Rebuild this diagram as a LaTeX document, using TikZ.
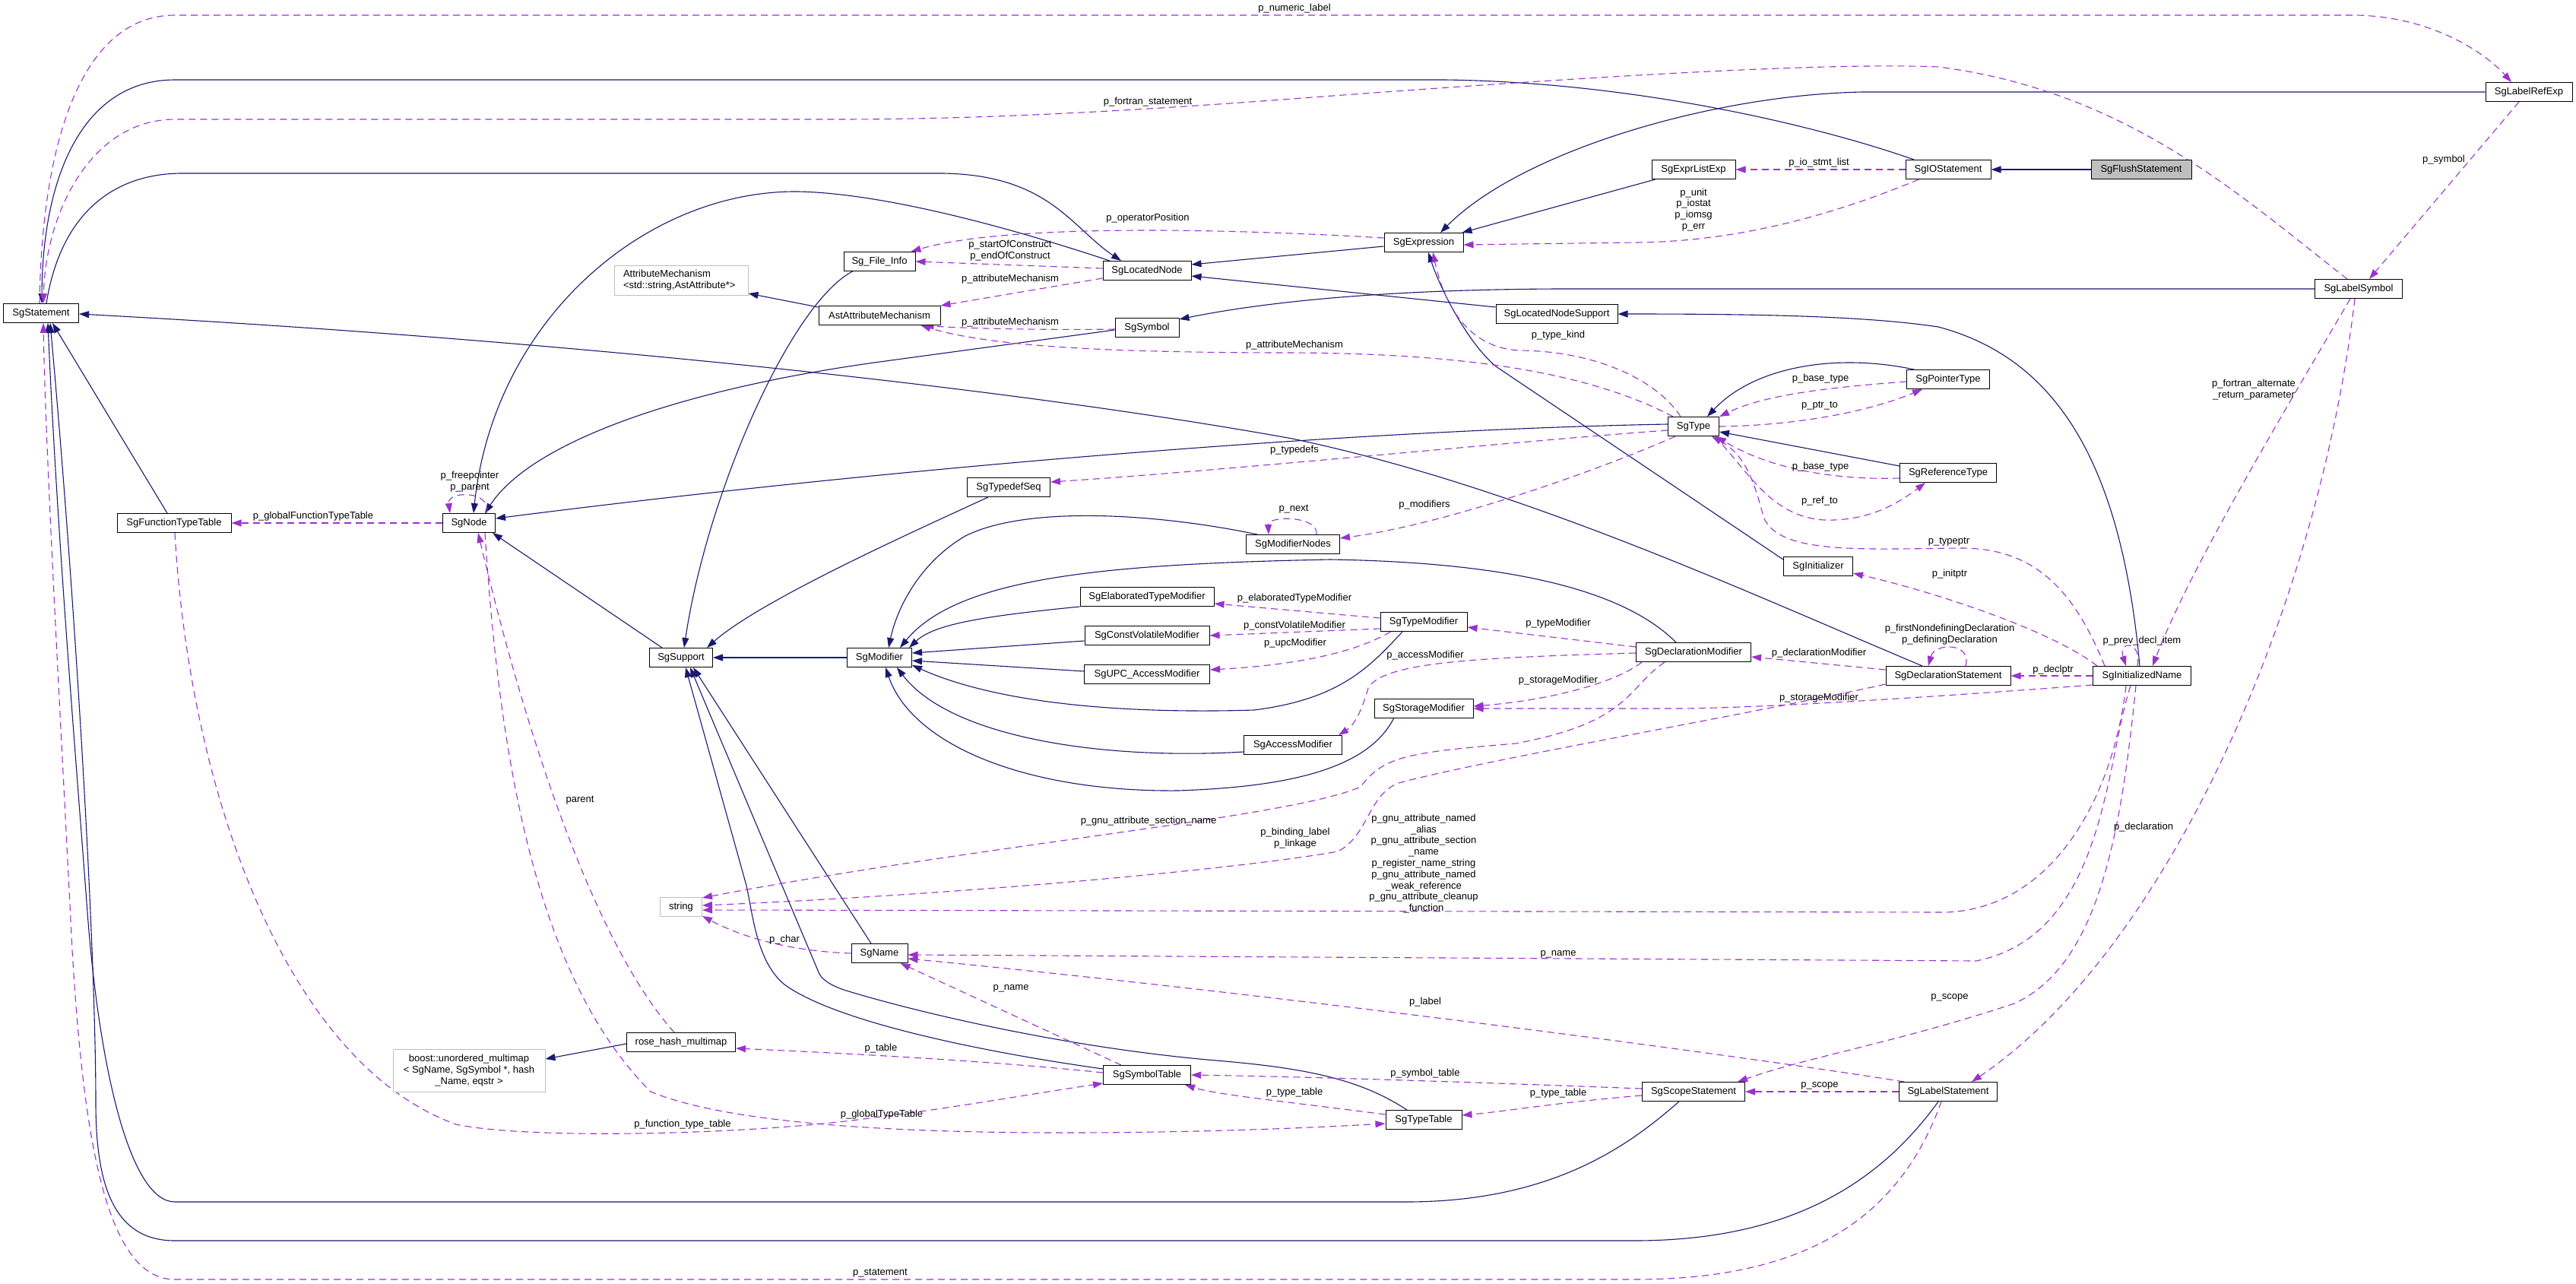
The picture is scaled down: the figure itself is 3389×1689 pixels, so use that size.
\documentclass[tikz,border=0pt]{standalone}
\usepackage{fontspec}
\setmainfont{Liberation Sans}
\usetikzlibrary{arrows.meta,calc}
\definecolor{navy}{HTML}{191970}
\definecolor{purp}{HTML}{9A32CD}
\definecolor{greyb}{HTML}{BFBFBF}
\newcommand{\nf}{\fontsize{13}{14.8}\selectfont}
\pgfdeclarelayer{back}
\pgfdeclarelayer{bg}
\pgfsetlayers{back,bg,main}
\begin{document}
\begin{tikzpicture}[x=1pt,y=-1pt,
 nd/.style={draw=black, line width=1pt, fill=white, minimum height=25pt, inner sep=0pt, font=\nf},
 gnd/.style={nd, draw=greyb},
 inh/.style={draw=navy, line width=1.1pt, -{Triangle[length=13pt,width=9pt]}},
 mem/.style={draw=purp, line width=1.1pt, dash pattern=on 9pt off 6pt, -{Triangle[length=13pt,width=9pt]}},
 lbl/.style={font=\nf, inner sep=0pt, align=center, text=black}]
\begin{pgfonlayer}{back}
\fill[white] (0,0) rectangle (3389,1689);
\end{pgfonlayer}
\useasboundingbox (0,0) rectangle (3389,1689);

% ---------- nodes ----------
\node[nd, minimum width=99pt] (stmt) at (54,412) {SgStatement};
\node[nd, minimum width=150pt] (ftt) at (229,688) {SgFunctionTypeTable};
\node[nd, minimum width=69pt] (sgnode) at (617,688) {SgNode};
\node[gnd, minimum height=39pt, text width=152pt, inner xsep=12pt, align=left] (attrm) at (896,369) {AttributeMechanism\\<std::string,AstAttribute*>};
\node[nd, minimum width=94pt] (fileinfo) at (1157,344) {Sg\_File\_Info};
\node[nd, minimum width=160pt] (astattr) at (1157,415) {AstAttributeMechanism};
\node[nd, minimum width=116pt] (locnode) at (1509,356) {SgLocatedNode};
\node[nd, minimum width=84pt] (symbol) at (1509,431) {SgSymbol};
\node[nd, minimum width=109pt] (typedefseq) at (1327,641) {SgTypedefSeq};
\node[nd, minimum width=123pt] (modnodes) at (1701,716) {SgModifierNodes};
\node[nd, minimum width=176pt] (elab) at (1509,785) {SgElaboratedTypeModifier};
\node[nd, minimum width=164pt] (cv) at (1509,836) {SgConstVolatileModifier};
\node[nd, minimum width=85pt] (modifier) at (1157,865) {SgModifier};
\node[nd, minimum width=165pt] (upc) at (1509,887) {SgUPC\_AccessModifier};
\node[nd, minimum width=129pt] (access) at (1701,980) {SgAccessModifier};
\node[nd, minimum width=130pt] (storage) at (1873,932) {SgStorageModifier};
\node[nd, minimum width=83pt] (support) at (896,865) {SgSupport};
\node[gnd, minimum width=55pt] (str) at (896,1193) {string};
\node[nd, minimum width=74pt] (sgname) at (1157,1254) {SgName};
\node[nd, minimum width=143pt] (rose) at (896,1371) {rose\_hash\_multimap};
\node[gnd, minimum width=200pt, minimum height=56pt, align=center] (boost) at (617,1408) {boost::unordered\_multimap\\< SgName, SgSymbol *, hash\\\_Name, eqstr >};
\node[nd, minimum width=115pt] (symtab) at (1509,1414) {SgSymbolTable};
\node[nd, minimum width=100pt] (typetab) at (1873,1473) {SgTypeTable};
\node[nd, minimum width=135pt] (sgscope) at (2228,1436) {SgScopeStatement};
\node[nd, minimum width=129pt] (labelstmt) at (2563,1436) {SgLabelStatement};
\node[nd, minimum width=164pt] (declstmt) at (2563,889) {SgDeclarationStatement};
\node[nd, minimum width=151pt] (declmod) at (2228,858) {SgDeclarationModifier};
\node[nd, minimum width=129pt] (initname) at (2818,889) {SgInitializedName};
\node[nd, minimum width=114pt] (typemod) at (1873,818) {SgTypeModifier};
\node[nd, minimum width=104pt] (expr) at (1873,319) {SgExpression};
\node[nd, minimum width=160pt] (lns) at (2048,413) {SgLocatedNodeSupport};
\node[nd, minimum width=67pt] (sgtype) at (2228,561) {SgType};
\node[nd, minimum width=110pt] (exprlist) at (2228,223) {SgExprListExp};
\node[nd, minimum width=112pt] (iostmt) at (2563,223) {SgIOStatement};
\node[nd, minimum width=132pt, fill=greyb] (flush) at (2817,223) {SgFlushStatement};
\node[nd, minimum width=109pt] (ptrtype) at (2563,499) {SgPointerType};
\node[nd, minimum width=127pt] (reftype) at (2563,622) {SgReferenceType};
\node[nd, minimum width=91pt] (initializer) at (2392,745) {SgInitializer};
\node[nd, minimum width=114pt] (labelref) at (3327,121) {SgLabelRefExp};
\node[nd, minimum width=115pt] (labelsym) at (3103,380) {SgLabelSymbol};

% ---------- edge labels ----------
\node[lbl] (l1) at (1703,11) {p\_numeric\_label};
\node[lbl] (l2) at (1510,134) {p\_fortran\_statement};
\node[lbl] (l3) at (1510,287) {p\_operatorPosition};
\node[lbl] (l4) at (1329,330) {p\_startOfConstruct\\p\_endOfConstruct};
\node[lbl] (l5) at (1329,367) {p\_attributeMechanism};
\node[lbl] (l6) at (1329,424) {p\_attributeMechanism};
\node[lbl] (l7) at (1703,454) {p\_attributeMechanism};
\node[lbl] (l8) at (2050,441) {p\_type\_kind};
\node[lbl] (l9) at (2393,214) {p\_io\_stmt\_list};
\node[lbl] (l10) at (2228,276) {p\_unit\\p\_iostat\\p\_iomsg\\p\_err};
\node[lbl] (l11) at (3215,210) {p\_symbol};
\node[lbl] (l12) at (1703,592) {p\_typedefs};
\node[lbl] (l13) at (1874,664) {p\_modifiers};
\node[lbl] (l14) at (1702,670) {p\_next};
\node[lbl] (l15) at (2395,498) {p\_base\_type};
\node[lbl] (l16) at (2394,534) {p\_ptr\_to};
\node[lbl] (l17) at (2395,614) {p\_base\_type};
\node[lbl] (l18) at (2394,659) {p\_ref\_to};
\node[lbl] (l19) at (2564,713) {p\_typeptr};
\node[lbl] (l20) at (2565,755) {p\_initptr};
\node[lbl] (l21) at (2965,513) {p\_fortran\_alternate\\\_return\_parameter};
\node[lbl] (l22) at (2565,835) {p\_firstNondefiningDeclaration\\p\_definingDeclaration};
\node[lbl] (l23) at (2818,843) {p\_prev\_decl\_item};
\node[lbl] (l24) at (1703,787) {p\_elaboratedTypeModifier};
\node[lbl] (l25) at (1703,823) {p\_constVolatileModifier};
\node[lbl] (l26) at (1704,846) {p\_upcModifier};
\node[lbl] (l27) at (2050,820) {p\_typeModifier};
\node[lbl] (l28) at (1875,862) {p\_accessModifier};
\node[lbl] (l29) at (2050,895) {p\_storageModifier};
\node[lbl] (l30) at (2393,859) {p\_declarationModifier};
\node[lbl] (l31) at (2701,881) {p\_declptr};
\node[lbl] (l32) at (2393,918) {p\_storageModifier};
\node[lbl] (l33) at (1511,1080) {p\_gnu\_attribute\_section\_name};
\node[lbl] (l34) at (1704,1103) {p\_binding\_label\\p\_linkage};
\node[lbl] (l35) at (1873,1136) {p\_gnu\_attribute\_named\\\_alias\\p\_gnu\_attribute\_section\\\_name\\p\_register\_name\_string\\p\_gnu\_attribute\_named\\\_weak\_reference\\p\_gnu\_attribute\_cleanup\\\_function};
\node[lbl] (l36) at (2050,1255) {p\_name};
\node[lbl] (l37) at (1875,1318) {p\_label};
\node[lbl] (l38) at (2565,1312) {p\_scope};
\node[lbl] (l39) at (2820,1088) {p\_declaration};
\node[lbl] (l40) at (2394,1428) {p\_scope};
\node[lbl] (l41) at (1875,1412) {p\_symbol\_table};
\node[lbl] (l42) at (2050,1438) {p\_type\_table};
\node[lbl] (l43) at (1703,1437) {p\_type\_table};
\node[lbl] (l44) at (1159,1379) {p\_table};
\node[lbl] (l45) at (1330,1300) {p\_name};
\node[lbl] (l46) at (1032,1236) {p\_char};
\node[lbl] (l47) at (763,1053) {parent};
\node[lbl] (l48) at (898,1479) {p\_function\_type\_table};
\node[lbl] (l49) at (1160,1466) {p\_globalTypeTable};
\node[lbl] (l50) at (1158,1675) {p\_statement};
\node[lbl] (l51) at (412,679) {p\_globalFunctionTypeTable};
\node[lbl] (l52) at (618,634) {p\_freepointer\\p\_parent};

\begin{pgfonlayer}{bg}
% ---------- inheritance (navy) ----------
\draw[inh] (flush.west) -- (iostmt.east);
\draw[inh] ($(iostmt.north)+(-45,0)$) .. controls (2390,165) and (2150,108) .. (1900,105) -- (230,105) .. controls (110,105) and (56,230) .. ($(stmt.north)+(1,0)$);
\draw[inh] ($(stmt.north)+(7,0)$) .. controls (80,280) and (150,228) .. (240,228) -- (1240,228) .. controls (1380,230) and (1410,300) .. ($(locnode.north)+(-34,0)$);
\draw[inh] ($(locnode.north)+(-49,0)$) .. controls (1300,290) and (1150,254) .. (1050,252) .. controls (850,250) and (650,420) .. ($(sgnode.north)+(6,0)$);
\draw[inh] ($(symbol.west)+(0,3)$) -- (1150,477) .. controls (900,512) and (700,580) .. ($(sgnode.north east)+(-14,0)$);
\draw[inh] ($(sgtype.west)+(0,-3)$) .. controls (1800,565) and (1200,612) .. ($(sgnode.east)+(0,-6)$);
\draw[inh] ($(support.north)+(-25,0)$) -- ($(sgnode.south)+(31,0)$);
\draw[inh] ($(fileinfo.south west)+(12,0)$) .. controls (1040,400) and (930,650) .. ($(support.north)+(4,0)$);
\draw[inh] ($(astattr.north west)+(0,2)$) -- ($(attrm.east)+(0,17)$);
\draw[inh] ($(typedefseq.south west)+(28,0)$) .. controls (1200,700) and (1000,790) .. ($(support.north east)+(-8,0)$);
\draw[inh] (modifier.west) -- (support.east);
\draw[inh] ($(sgname.north)+(-11,0)$) -- ($(support.south)+(16,0)$);
\draw[inh] ($(symtab.west)+(0,-8)$) .. controls (1300,1385) and (1100,1345) .. (1032,1295) .. controls (995,1265) and (990,1200) .. (982,1165) -- ($(support.south)+(6,0)$);
\draw[inh] ($(typetab.north)+(-22,0)$) .. controls (1790,1420) and (1720,1405) .. (1600,1395) .. controls (1400,1378) and (1200,1330) .. (1110,1302) .. controls (1090,1295) and (1080,1287) .. (1077,1279) -- ($(support.south)+(12,0)$);
\draw[inh] ($(modnodes.north west)+(15,0)$) .. controls (1520,675) and (1350,665) .. (1270,705) .. controls (1210,740) and (1180,800) .. ($(modifier.north)+(12,0)$);
\draw[inh] ($(declmod.north)+(-23,0)$) .. controls (2140,780) and (2000,740) .. (1750,736) .. controls (1450,742) and (1260,760) .. ($(modifier.north)+(27,0)$);
\draw[inh] ($(typemod.south)+(-28,0)$) .. controls (1800,880) and (1760,920) .. (1650,934) .. controls (1450,940) and (1300,920) .. ($(modifier.east)+(0,10)$);
\draw[inh] ($(access.west)+(0,9)$) .. controls (1450,1000) and (1250,970) .. ($(modifier.south)+(23,0)$);
\draw[inh] ($(storage.south west)+(26,0)$) .. controls (1800,1010) and (1700,1035) .. (1550,1040) .. controls (1350,1042) and (1200,980) .. ($(modifier.south)+(8,0)$);
\draw[inh] (elab.south west) .. controls (1300,810) and (1230,820) .. ($(modifier.north east)+(-4,0)$);
\draw[inh] ($(cv.west)+(0,7)$) -- ($(modifier.east)+(0,-6)$);
\draw[inh] ($(upc.west)+(0,-4)$) -- ($(modifier.east)+(0,4)$);
\draw[inh] ($(expr.west)+(0,5)$) -- ($(locnode.east)+(0,-8)$);
\draw[inh] ($(lns.west)+(0,-9)$) -- ($(locnode.east)+(0,7)$);
\draw[inh] (labelsym.west) -- (2050,380) .. controls (1800,381) and (1650,400) .. ($(symbol.east)+(0,-11)$);
\draw[inh] ($(initname.north)+(-3,0)$) .. controls (2790,600) and (2700,470) .. (2550,430) .. controls (2450,415) and (2300,413) .. (lns.east);
\draw[inh] ($(exprlist.south west)+(5,0)$) -- ($(expr.north east)+(-2,0)$);
\draw[inh] (labelref.west) -- (2450,121) .. controls (2250,125) and (2000,200) .. ($(expr.north)+(22,0)$);
\draw[inh] ($(initializer.west)+(0,-9)$) -- (1968,482) .. controls (1930,450) and (1895,380) .. ($(expr.south)+(6,0)$);
\draw[inh] ($(declstmt.north)+(-34,0)$) .. controls (2300,780) and (2000,640) .. (1700,577) .. controls (1300,505) and (700,445) .. ($(stmt.east)+(0,1)$);
\draw[inh] ($(ptrtype.north west)+(10,0)$) .. controls (2420,465) and (2310,480) .. ($(sgtype.north)+(18,0)$);
\draw[inh] ($(reftype.west)+(0,-9)$) -- ($(sgtype.east)+(0,7)$);
\draw[inh] ($(sgscope.south)+(-19,0)$) .. controls (2150,1500) and (2050,1581) .. (1850,1581) -- (230,1581) .. controls (170,1581) and (130,1400) .. (115,1200) .. controls (100,1000) and (75,700) .. ($(stmt.south)+(9,0)$);
\draw[inh] ($(labelstmt.south)+(-13,0)$) .. controls (2470,1560) and (2350,1632) .. (2150,1632) -- (230,1632) .. controls (150,1632) and (126,1560) .. (126,1450) .. controls (126,1250) and (100,800) .. ($(stmt.south)+(12,0)$);
\draw[inh] ($(ftt.north)+(-9,0)$) -- ($(stmt.south)+(15,0)$);
\draw[inh] ($(rose.west)+(0,2)$) -- ($(boost.east)+(0,-15)$);

% ---------- members (purple dashed) ----------
\draw[mem] ($(stmt.north)+(-2,0)$) .. controls (55,180) and (110,20) .. (230,20) -- (3100,20) .. controls (3200,22) and (3270,70) .. ($(labelref.north)+(-23,0)$);
\draw[mem] ($(labelsym.north)+(-15,0)$) .. controls (2950,260) and (2800,120) .. (2550,88) .. controls (2400,82) and (2100,100) .. (1700,130) .. controls (1500,145) and (1300,157) .. (1100,157) -- (230,157) .. controls (120,157) and (60,280) .. ($(stmt.north)+(3,0)$);
\draw[mem] ($(labelstmt.south)+(-9,0)$) .. controls (2500,1600) and (2380,1683) .. (2150,1683) -- (230,1683) .. controls (140,1683) and (110,1500) .. (95,1250) .. controls (80,950) and (60,600) .. ($(stmt.south)+(3,0)$);
\draw[mem] (sgnode.west) -- (ftt.east);
\draw[mem] ($(sgnode.north)+(23,0)$) .. controls (648,645) and (588,645) .. ($(sgnode.north)+(-25,0)$);
\draw[mem] ($(ftt.south)+(1,0)$) .. controls (250,1050) and (380,1400) .. (600,1479) .. controls (700,1500) and (1000,1492) .. (1150,1470) .. controls (1250,1458) and (1350,1440) .. ($(symtab.south west)+(0,-2)$);
\draw[mem] ($(sgnode.south)+(21,0)$) .. controls (660,1050) and (720,1300) .. (856,1436) .. controls (950,1475) and (1150,1490) .. (1400,1490) .. controls (1600,1490) and (1750,1482) .. ($(typetab.west)+(0,5)$);
\draw[mem] ($(rose.north)+(-9,0)$) .. controls (790,1250) and (700,1000) .. ($(sgnode.south)+(12,0)$);
\draw[mem] ($(symtab.west)+(0,-3)$) .. controls (1300,1395) and (1100,1385) .. ($(rose.east)+(0,8)$);
\draw[mem] ($(symtab.north)+(-34,0)$) -- ($(sgname.south east)+(-10,0)$);
\draw[mem] (sgname.west) .. controls (1060,1252) and (990,1240) .. ($(str.south east)+(0,-1)$);
\draw[mem] ($(declmod.south)+(-38,0)$) .. controls (2140,905) and (2145,950) .. (1994,978) .. controls (1850,990) and (1820,995) .. (1790,1035) .. controls (1700,1075) and (1300,1110) .. ($(str.north east)+(0,1)$);
\draw[mem] ($(declstmt.south west)+(0,-2)$) .. controls (2300,940) and (1950,1000) .. (1840,1030) .. controls (1800,1045) and (1800,1100) .. (1760,1120) .. controls (1650,1140) and (1300,1175) .. ($(str.east)+(0,-2)$);
\draw[mem] ($(initname.south)+(-21,0)$) .. controls (2780,1050) and (2700,1195) .. (2560,1200) -- ($(str.east)+(0,4)$);
\draw[mem] ($(initname.south)+(-15,0)$) .. controls (2770,1000) and (2770,1230) .. (2600,1264) -- ($(sgname.east)+(0,2)$);
\draw[mem] ($(labelstmt.north west)+(7,0)$) .. controls (2300,1390) and (1700,1310) .. ($(sgname.east)+(0,7)$);
\draw[mem] ($(initname.south)+(-8,0)$) .. controls (2790,1100) and (2760,1270) .. (2650,1320) .. controls (2500,1370) and (2380,1390) .. ($(sgscope.north east)+(-10,0)$);
\draw[mem] (labelstmt.west) -- (sgscope.east);
\draw[mem] ($(labelsym.south)+(-5,0)$) .. controls (3050,800) and (2850,1250) .. ($(labelstmt.north)+(31,0)$);
\draw[mem] ($(labelsym.south)+(-11,0)$) .. controls (3000,550) and (2880,750) .. ($(initname.north)+(14,0)$);
\draw[mem] ($(initname.north)+(-6,0)$) .. controls (2818,842) and (2786,842) .. ($(initname.north)+(-21,0)$);
\draw[mem] (initname.west) -- (declstmt.east);
\draw[mem] ($(initname.south west)+(0,-1)$) .. controls (2500,920) and (2300,932) .. (2200,932) -- (storage.east);
\draw[mem] ($(declmod.south west)+(8,0)$) .. controls (2130,895) and (2050,920) .. ($(storage.east)+(0,-3)$);
\draw[mem] ($(declstmt.west)+(0,-8)$) -- ($(declmod.east)+(0,6)$);
\draw[mem] ($(declstmt.north)+(23,0)$) .. controls (2595,845) and (2545,845) .. ($(declstmt.north)+(-26,0)$);
\draw[mem] ($(initname.north west)+(16,0)$) .. controls (2730,780) and (2680,722) .. (2583,721) .. controls (2450,722) and (2340,730) .. (2320,680) .. controls (2305,620) and (2290,595) .. ($(sgtype.south east)+(-10,0)$);
\draw[mem] ($(initname.north west)+(6,0)$) .. controls (2700,830) and (2550,780) .. ($(initializer.east)+(0,9)$);
\draw[mem] ($(sgtype.north)+(-17,0)$) .. controls (2180,500) and (2100,462) .. (2000,461) .. controls (1930,458) and (1900,400) .. ($(expr.south)+(12,0)$);
\draw[mem] ($(sgtype.north west)+(7,0)$) .. controls (2100,495) and (1950,465) .. (1700,464) .. controls (1450,464) and (1300,455) .. ($(astattr.south east)+(-26,0)$);
\draw[mem] ($(sgtype.west)+(0,5)$) .. controls (2000,580) and (1600,620) .. ($(typedefseq.east)+(0,-7)$);
\draw[mem] ($(sgtype.south west)+(10,0)$) .. controls (2100,620) and (1900,690) .. ($(modnodes.east)+(0,-8)$);
\draw[mem] ($(modnodes.north)+(31,0)$) .. controls (1735,678) and (1668,678) .. ($(modnodes.north)+(-32,0)$);
\draw[mem] (iostmt.west) -- (exprlist.east);
\draw[mem] ($(iostmt.south west)+(18,0)$) .. controls (2430,275) and (2300,318) .. (2150,319) -- ($(expr.east)+(0,3)$);
\draw[mem] ($(expr.west)+(0,-6)$) .. controls (1600,300) and (1320,295) .. ($(fileinfo.north east)+(-6,0)$);
\draw[mem] ($(locnode.west)+(0,-3)$) -- (fileinfo.east);
\draw[mem] ($(locnode.south west)+(0,-3)$) -- (astattr.north east);
\draw[mem] ($(symbol.west)+(0,2)$) .. controls (1400,434) and (1280,433) .. ($(astattr.south east)+(-22,0)$);
\draw[mem] ($(labelref.south)+(-13,0)$) -- ($(labelsym.north)+(14,0)$);
\draw[mem] ($(sgscope.west)+(0,5)$) .. controls (2050,1450) and (1980,1462) .. ($(typetab.east)+(0,-6)$);
\draw[mem] ($(sgscope.west)+(0,-4)$) .. controls (1900,1422) and (1700,1416) .. (symtab.east);
\draw[mem] ($(typetab.west)+(0,-7)$) .. controls (1700,1450) and (1600,1440) .. ($(symtab.south east)+(-8,0)$);
\draw[mem] ($(ptrtype.west)+(0,3)$) .. controls (2400,510) and (2320,520) .. (sgtype.north east);
\draw[mem] (sgtype.east) .. controls (2350,560) and (2450,545) .. ($(ptrtype.south)+(-34,0)$);
\draw[mem] ($(reftype.west)+(0,7)$) .. controls (2400,632) and (2320,612) .. ($(sgtype.south east)+(-4,0)$);
\draw[mem] ($(sgtype.south east)+(-6,0)$) .. controls (2300,620) and (2330,680) .. (2400,684) .. controls (2460,686) and (2500,660) .. ($(reftype.south)+(-30,0)$);
\draw[mem] ($(typemod.west)+(0,-5)$) -- ($(elab.east)+(0,9)$);
\draw[mem] ($(typemod.west)+(0,9)$) -- (cv.east);
\draw[mem] ($(typemod.south west)+(14,0)$) .. controls (1780,860) and (1700,875) .. ($(upc.east)+(0,-6)$);
\draw[mem] ($(declmod.west)+(0,-7)$) -- ($(typemod.east)+(0,7)$);
\draw[mem] ($(declmod.west)+(0,1)$) .. controls (1950,865) and (1820,870) .. (1800,905) .. controls (1790,940) and (1780,955) .. ($(access.north east)+(-5,0)$);
\end{pgfonlayer}
\end{tikzpicture}
\end{document}
